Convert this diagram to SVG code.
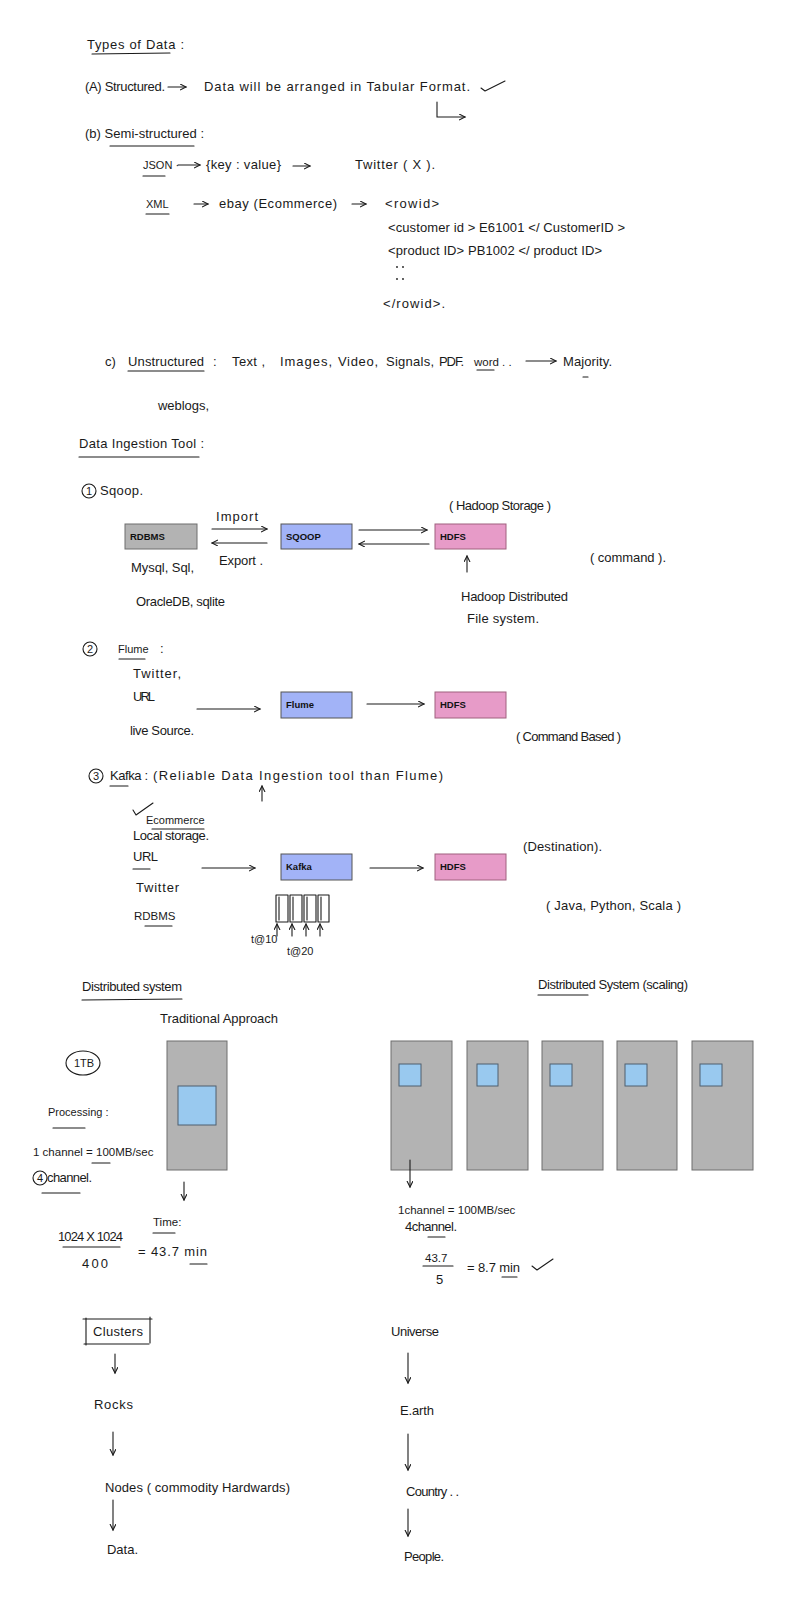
<svg xmlns="http://www.w3.org/2000/svg" width="786" height="1600" viewBox="0 0 786 1600">
<style>
.t{font-family:"Liberation Sans",Arial,sans-serif;font-size:13px;fill:#1a1a1a}
.m{font-family:"Liberation Sans",Arial,sans-serif;font-size:11.5px;fill:#1a1a1a}
.s{font-family:"Liberation Sans",Arial,sans-serif;font-size:11px;fill:#1a1a1a}
.bl{font-family:"Liberation Sans",Arial,sans-serif;font-size:9.5px;font-weight:bold;fill:#111}
.ln{stroke:#1a1a1a;stroke-width:1.1;fill:none;stroke-linecap:round;stroke-linejoin:round}
.ar{stroke:#1a1a1a;stroke-width:1.1;fill:none;stroke-linecap:round;marker-end:url(#ah)}
.gray{fill:#b3b3b3;stroke:#6e6e6e;stroke-width:1}
.blue{fill:#a2b3f7;stroke:#555;stroke-width:1}
.pink{fill:#e79bc8;stroke:#a0607f;stroke-width:1}
.sq{fill:#99c9ef;stroke:#4f5f6f;stroke-width:1}
</style>
<defs>
<marker id="ah" markerWidth="8" markerHeight="8" refX="6" refY="3" orient="auto" markerUnits="userSpaceOnUse"><path d="M0,0 L6,3 L0,6" fill="none" stroke="#1a1a1a" stroke-width="1.1"/></marker>
</defs>
<rect width="786" height="1600" fill="#ffffff"/>

<g id="types-of-data">
<text class="t" x="87" y="49" textLength="97" lengthAdjust="spacing">Types of Data :</text>
<path class="ln" d="M92,54 L170,53"/>
<text class="t" x="85" y="91" textLength="80" lengthAdjust="spacing">(A) Structured.</text>
<text class="t" x="204" y="91" textLength="266" lengthAdjust="spacing">Data will be arranged in Tabular Format.</text>
<path class="ln" d="M481,88 L485,91 L505,81"/>
<text class="t" x="85" y="138" textLength="119" lengthAdjust="spacing">(b) Semi-structured :</text>
<path class="ln" d="M110,146 L194,146"/>
<text class="s" x="143" y="169">JSON ·</text>
<path class="ln" d="M143,176 L165,176"/>
<text class="t" x="206" y="169" textLength="75" lengthAdjust="spacing">{key : value}</text>
<text class="t" x="355" y="169" textLength="80" lengthAdjust="spacing">Twitter ( X ).</text>
<text class="s" x="146" y="208">XML</text>
<path class="ln" d="M146,214 L169,214"/>
<text class="t" x="219" y="208" textLength="118" lengthAdjust="spacing">ebay (Ecommerce)</text>
<text class="t" x="385" y="208" textLength="54" lengthAdjust="spacing">&lt;rowid&gt;</text>
<text class="t" x="388" y="232" textLength="237" lengthAdjust="spacing">&lt;customer id &gt; E61001 &lt;/ CustomerID &gt;</text>
<text class="t" x="388" y="255" textLength="214" lengthAdjust="spacing">&lt;product ID&gt; PB1002 &lt;/ product ID&gt;</text>
<circle cx="397" cy="267" r="0.9" fill="#1a1a1a"/><circle cx="403" cy="267" r="0.9" fill="#1a1a1a"/>
<circle cx="397" cy="279" r="0.9" fill="#1a1a1a"/><circle cx="403" cy="279" r="0.9" fill="#1a1a1a"/>
<text class="t" x="383" y="308" textLength="62" lengthAdjust="spacing">&lt;/rowid&gt;.</text>
<text class="t" x="105" y="366">c)</text>
<text class="t" x="128" y="366" textLength="76" lengthAdjust="spacing">Unstructured</text>
<path class="ln" d="M128,371 L204,371"/>
<text class="t" x="213" y="366">:</text>
<text class="t" x="232" y="366" textLength="33" lengthAdjust="spacing">Text ,</text>
<text class="t" x="280" y="366" textLength="52" lengthAdjust="spacing">Images,</text>
<text class="t" x="338" y="366" textLength="40" lengthAdjust="spacing">Video,</text>
<text class="t" x="386" y="366" textLength="48" lengthAdjust="spacing">Signals,</text>
<text class="t" x="439" y="366" textLength="25" lengthAdjust="spacing">PDF.</text>
<text class="m" x="474" y="366">word . .</text>
<path class="ln" d="M477,370 L494,370"/>
<text class="t" x="563" y="366" textLength="49" lengthAdjust="spacing">Majority.</text>
<path class="ln" d="M583,377 L588,377"/>
<text class="t" x="158" y="410" textLength="51" lengthAdjust="spacing">weblogs,</text>
</g>

<g id="ingestion-title">
<text class="t" x="79" y="448" textLength="125" lengthAdjust="spacing">Data Ingestion Tool :</text>
<path class="ln" d="M79,457 L199,457"/>
</g>

<g id="sqoop-section">
<circle class="ln" cx="89" cy="491" r="7"/>
<text class="s" x="86" y="495">1</text>
<text class="t" x="100" y="495" textLength="43" lengthAdjust="spacing">Sqoop.</text>
<text class="t" x="449" y="510" textLength="102" lengthAdjust="spacing">( Hadoop Storage )</text>
<text class="t" x="216" y="521" textLength="42" lengthAdjust="spacing">Import</text>
<text class="t" x="219" y="565" textLength="44" lengthAdjust="spacing">Export .</text>
<text class="t" x="590" y="562" textLength="76" lengthAdjust="spacing">( command ).</text>
<text class="t" x="131" y="572" textLength="63" lengthAdjust="spacing">Mysql, Sql,</text>
<text class="t" x="136" y="606" textLength="89" lengthAdjust="spacing">OracleDB, sqlite</text>
<text class="t" x="461" y="601" textLength="107" lengthAdjust="spacing">Hadoop Distributed</text>
<text class="t" x="467" y="623" textLength="72" lengthAdjust="spacing">File system.</text>
</g>
<g id="node-rdbms"><rect class="gray" x="125" y="524" width="72" height="25"/><text class="bl" x="130" y="540">RDBMS</text></g>
<g id="node-sqoop"><rect class="blue" x="281" y="524" width="71" height="25"/><text class="bl" x="286" y="540">SQOOP</text></g>
<g id="node-hdfs1"><rect class="pink" x="435" y="524" width="71" height="25"/><text class="bl" x="440" y="540">HDFS</text></g>

<g id="flume-section">
<circle class="ln" cx="90" cy="649" r="7"/>
<text class="s" x="87" y="653">2</text>
<text class="s" x="118" y="653">Flume</text>
<path class="ln" d="M119,659 L145,659"/>
<text class="t" x="160" y="653">:</text>
<text class="t" x="133" y="678" textLength="48" lengthAdjust="spacing">Twitter,</text>
<text class="t" x="133" y="701" textLength="22" lengthAdjust="spacing">URL</text>
<text class="t" x="130" y="735" textLength="64" lengthAdjust="spacing">live Source.</text>
<text class="t" x="516" y="741" textLength="105" lengthAdjust="spacing">( Command Based )</text>
</g>
<g id="node-flume"><rect class="blue" x="281" y="692" width="71" height="26"/><text class="bl" x="286" y="708">Flume</text></g>
<g id="node-hdfs2"><rect class="pink" x="435" y="692" width="71" height="26"/><text class="bl" x="440" y="708">HDFS</text></g>

<g id="kafka-section">
<circle class="ln" cx="96" cy="776" r="7"/>
<text class="s" x="93" y="780">3</text>
<text class="t" x="110" y="780" textLength="38" lengthAdjust="spacing">Kafka :</text>
<path class="ln" d="M110,786 L128,786"/>
<text class="t" x="153" y="780" textLength="290" lengthAdjust="spacing">(Reliable Data Ingestion tool than Flume)</text>
<path class="ln" d="M133,810 L136,815 L153,803"/>
<text class="s" x="146" y="824">Ecommerce</text>
<path class="ln" d="M152,829 L204,829"/>
<text class="t" x="133" y="840" textLength="76" lengthAdjust="spacing">Local storage.</text>
<text class="t" x="133" y="861" textLength="25" lengthAdjust="spacing">URL</text>
<path class="ln" d="M133,869 L150,869"/>
<text class="t" x="136" y="892" textLength="43" lengthAdjust="spacing">Twitter</text>
<text class="m" x="134" y="920">RDBMS</text>
<path class="ln" d="M145,926 L172,926"/>
<text class="t" x="523" y="851" textLength="79" lengthAdjust="spacing">(Destination).</text>
<text class="t" x="546" y="910" textLength="135" lengthAdjust="spacing">( Java, Python, Scala )</text>
<rect class="ln" x="276" y="895" width="12" height="27"/><path class="ln" d="M279,897 L279,920"/>
<rect class="ln" x="290" y="895" width="12" height="27"/><path class="ln" d="M293,897 L293,920"/>
<rect class="ln" x="304" y="895" width="12" height="27"/><path class="ln" d="M307,897 L307,920"/>
<rect class="ln" x="318" y="895" width="11" height="27"/><path class="ln" d="M321,897 L321,920"/>
<text class="s" x="251" y="943">t@10</text>
<text class="s" x="287" y="955">t@20</text>
</g>
<g id="node-kafka"><rect class="blue" x="281" y="854" width="71" height="26"/><text class="bl" x="286" y="870">Kafka</text></g>
<g id="node-hdfs3"><rect class="pink" x="435" y="854" width="71" height="26"/><text class="bl" x="440" y="870">HDFS</text></g>

<g id="traditional">
<text class="t" x="82" y="991" textLength="100" lengthAdjust="spacing">Distributed system</text>
<path class="ln" d="M82,1000 L182,999"/>
<text class="t" x="160" y="1023" textLength="118" lengthAdjust="spacing">Traditional Approach</text>
<rect class="gray" x="167" y="1041" width="60" height="129"/>
<rect class="sq" x="178" y="1086" width="38" height="39"/>
<ellipse class="ln" cx="83" cy="1063" rx="17" ry="12"/>
<text class="s" x="74" y="1067">1TB</text>
<text class="s" x="48" y="1116">Processing :</text>
<path class="ln" d="M53,1128 L85,1128"/>
<text class="m" x="33" y="1156">1 channel = 100MB/sec</text>
<path class="ln" d="M92,1163 L110,1163"/>
<circle class="ln" cx="40" cy="1178" r="7"/>
<text class="s" x="37" y="1182">4</text>
<text class="t" x="47" y="1182" textLength="45" lengthAdjust="spacing">channel.</text>
<path class="ln" d="M42,1193 L80,1193"/>
<text class="m" x="153" y="1226">Time:</text>
<path class="ln" d="M153,1233 L175,1233"/>
<text class="t" x="58" y="1241" textLength="65" lengthAdjust="spacing">1024 X 1024</text>
<path class="ln" d="M63,1247 L120,1247"/>
<text class="t" x="82" y="1268" textLength="26" lengthAdjust="spacing">400</text>
<text class="t" x="138" y="1256" textLength="69" lengthAdjust="spacing">= 43.7 min</text>
<path class="ln" d="M190,1264 L207,1264"/>
</g>

<g id="distributed">
<text class="t" x="538" y="989" textLength="150" lengthAdjust="spacing">Distributed System (scaling)</text>
<path class="ln" d="M538,995 L588,995"/>
<rect class="gray" x="391" y="1041" width="61" height="129"/><rect class="sq" x="399" y="1064" width="22" height="22"/>
<rect class="gray" x="467" y="1041" width="61" height="129"/><rect class="sq" x="477" y="1064" width="21" height="22"/>
<rect class="gray" x="542" y="1041" width="61" height="129"/><rect class="sq" x="550" y="1064" width="22" height="22"/>
<rect class="gray" x="617" y="1041" width="60" height="129"/><rect class="sq" x="625" y="1064" width="22" height="22"/>
<rect class="gray" x="692" y="1041" width="61" height="129"/><rect class="sq" x="700" y="1064" width="22" height="22"/>
<text class="m" x="398" y="1214">1channel = 100MB/sec</text>
<text class="t" x="405" y="1231" textLength="52" lengthAdjust="spacing">4channel.</text>
<path class="ln" d="M428,1237 L445,1237"/>
<text class="m" x="425" y="1262">43.7</text>
<path class="ln" d="M423,1266 L453,1266"/>
<text class="t" x="436" y="1284">5</text>
<text class="t" x="467" y="1272" textLength="53" lengthAdjust="spacing">= 8.7 min</text>
<path class="ln" d="M502,1277 L517,1277"/>
<path class="ln" d="M532,1266 L537,1270 L553,1259"/>
</g>

<g id="clusters">
<path class="ln" d="M86,1318 L86,1345 M83,1319 L152,1319 M150,1317 L150,1343 M84,1344 L149,1344"/>
<text class="t" x="93" y="1336" textLength="50" lengthAdjust="spacing">Clusters</text>
<text class="t" x="94" y="1409" textLength="39" lengthAdjust="spacing">Rocks</text>
<text class="t" x="105" y="1492" textLength="185" lengthAdjust="spacing">Nodes ( commodity Hardwards)</text>
<text class="t" x="107" y="1554" textLength="31" lengthAdjust="spacing">Data.</text>
</g>
<g id="universe">
<text class="t" x="391" y="1336" textLength="48" lengthAdjust="spacing">Universe</text>
<text class="t" x="400" y="1415" textLength="34" lengthAdjust="spacing">E.arth</text>
<text class="t" x="406" y="1496" textLength="53" lengthAdjust="spacing">Country . .</text>
<text class="t" x="404" y="1561" textLength="40" lengthAdjust="spacing">People.</text>
</g>

<g id="connectors">
<path class="ar" d="M168,87 L186,87"/>
<path class="ar" d="M437,102 L437,117 L465,117"/>
<path class="ar" d="M178,165 L200,165"/>
<path class="ar" d="M293,166 L310,166"/>
<path class="ar" d="M194,204 L208,204"/>
<path class="ar" d="M352,204 L366,204"/>
<path class="ar" d="M526,361 L556,361"/>
<path class="ar" d="M212,529 L267,529"/>
<path class="ar" d="M267,543 L212,543"/>
<path class="ar" d="M359,530 L427,530"/>
<path class="ar" d="M429,544 L359,544"/>
<path class="ar" d="M467,572 L467,556"/>
<path class="ar" d="M197,709 L260,709"/>
<path class="ar" d="M367,704 L424,704"/>
<path class="ar" d="M262,801 L262,786"/>
<path class="ar" d="M202,868 L255,868"/>
<path class="ar" d="M370,868 L423,868"/>
<path class="ar" d="M277,936 L277,924"/>
<path class="ar" d="M292,936 L292,924"/>
<path class="ar" d="M306,936 L306,924"/>
<path class="ar" d="M320,936 L320,924"/>
<path class="ar" d="M184,1182 L184,1200"/>
<path class="ar" d="M410,1160 L410,1187"/>
<path class="ar" d="M115,1354 L115,1373"/>
<path class="ar" d="M113,1432 L113,1455"/>
<path class="ar" d="M113,1500 L113,1530"/>
<path class="ar" d="M408,1353 L408,1383"/>
<path class="ar" d="M408,1434 L408,1470"/>
<path class="ar" d="M408,1509 L408,1536"/>
</g>
</svg>
